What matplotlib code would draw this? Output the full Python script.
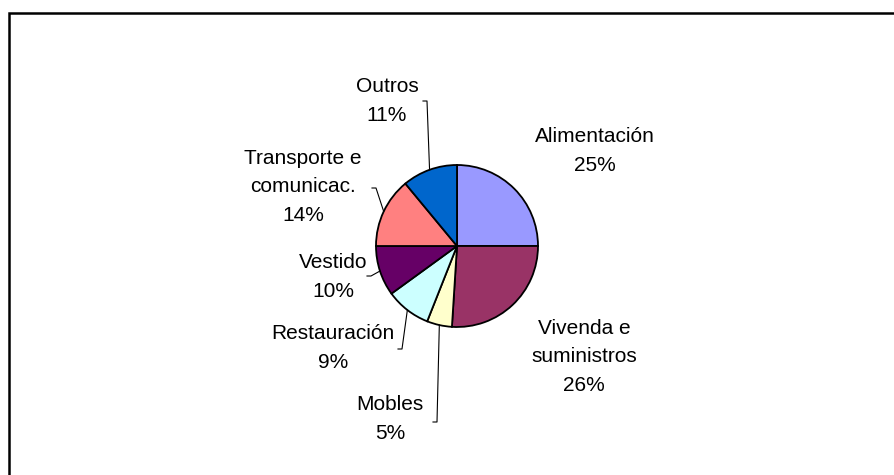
import numpy as np
import matplotlib.pyplot as plt
from matplotlib.patches import Rectangle

labels = ["Alimentación", "Vivenda e\nsuministros", "Mobles", "Restauración",
          "Vestido", "Transporte e\ncomunicac.", "Outros"]
values = [25, 26, 5, 9, 10, 14, 11]
colors = ["#9999FF", "#993366", "#FFFFCC", "#CCFFFF", "#660066", "#FF8080", "#0066CC"]

# label text centres (pixels from top-left)
label_pos = [(595, 151), (584, 357), (390, 419), (333, 348), (333, 277), (303, 187), (387, 101)]
# leader line elbow (pixels): where the short tick meets the label, None = no line
elbow = [None, None, (437, 422), (402, 349), (371, 276), (376, 188), (427, 101)]

W, H = 894, 475
cx, cy, r = 457, 246, 81

fig = plt.figure(figsize=(W / 100, H / 100), dpi=100)
ax = fig.add_axes([0, 0, 1, 1])
ax.set_xlim(0, W)
ax.set_ylim(0, H)
ax.set_aspect("equal")
ax.axis("off")

ax.add_patch(Rectangle((8.5, -20), W + 20, H - 12.5 + 20, fill=False,
                       edgecolor="black", linewidth=1.8))

wedges, _ = ax.pie(values, colors=colors, startangle=90, counterclock=False,
                   center=(cx, H - cy), radius=r,
                   wedgeprops=dict(edgecolor="black", linewidth=1.3))
ax.set_xlim(0, W)
ax.set_ylim(0, H)

for i, w in enumerate(wedges):
    tx, ty = label_pos[i]
    ax.text(tx, H - ty, "%s\n%d%%" % (labels[i], values[i]), ha="center", va="center",
            fontsize=15, family="Liberation Sans", linespacing=1.65)
    if elbow[i] is not None:
        ang = np.deg2rad((w.theta1 + w.theta2) / 2)
        ex = cx + r * np.cos(ang)
        ey = (H - cy) + r * np.sin(ang)
        bx, by = elbow[i]
        ax.plot([bx - 4, bx, ex], [H - by, H - by, ey], color="black", linewidth=0.8)

fig.savefig("out.png", dpi=100)
